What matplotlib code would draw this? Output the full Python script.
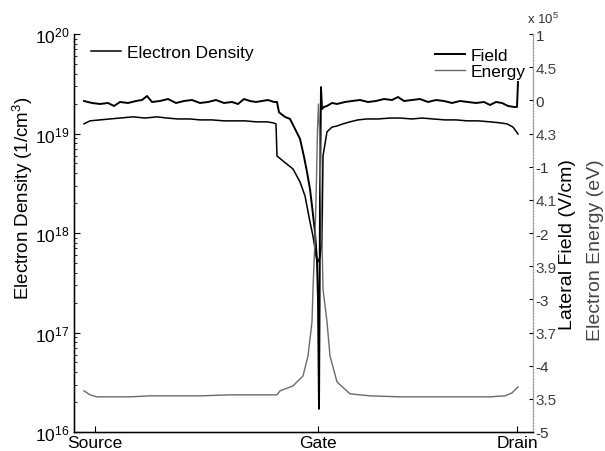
import matplotlib
matplotlib.use("Agg")
import matplotlib.pyplot as plt
import numpy as np

plt.rcParams["font.family"] = ["Liberation Sans", "DejaVu Sans"]
plt.rcParams["mathtext.default"] = "regular"
plt.rcParams["axes.unicode_minus"] = False

# position along the channel (nm), Source at 0, Drain at 422
tick_pos = [0, 223, 422]
tick_names = ["Source", "Gate", "Drain"]

# electron density (1/cm^3)
dens_x = [-11, -5, 5, 15, 25, 38, 50, 62, 72, 83, 95, 105, 117, 129, 138, 150,
          161, 172, 178, 181, 182, 188, 198, 205, 210, 215, 218, 222, 223, 225,
          227, 228, 232, 237, 242, 248, 255, 263, 272, 283, 295, 305, 317, 327,
          338, 350, 361, 372, 383, 395, 405, 412, 418, 423]
dens = [1.25e19, 1.34e19, 1.37e19, 1.40e19, 1.43e19, 1.47e19, 1.43e19, 1.47e19,
        1.43e19, 1.40e19, 1.40e19, 1.37e19, 1.37e19, 1.34e19, 1.34e19, 1.34e19,
        1.31e19, 1.31e19, 1.28e19, 1.25e19, 5.94e18, 5.30e18, 4.40e18, 3.26e18,
        2.36e18, 1.29e18, 9.3e17, 5.24e17, 5.12e17, 5.74e17, 8.7e17, 5.94e18,
        1.04e19, 1.16e19, 1.19e19, 1.25e19, 1.31e19, 1.37e19, 1.40e19, 1.40e19,
        1.43e19, 1.43e19, 1.40e19, 1.43e19, 1.40e19, 1.37e19, 1.37e19, 1.34e19,
        1.34e19, 1.31e19, 1.28e19, 1.25e19, 1.16e19, 9.9e18]

# lateral field (1e5 V/cm)
field_x = [-11, -3, 5, 13, 19, 25, 33, 41, 47, 52, 57, 65, 73, 81, 89, 97, 105,
           113, 121, 129, 137, 143, 149, 155, 161, 167, 173, 179, 182,
           184, 190, 195, 200, 205, 209, 212, 215, 217, 220, 222, 223, 224,
           224.6, 225, 226, 227, 229, 232, 237, 242,
           250, 257, 265, 273, 281, 289, 297, 303, 309, 317, 325, 333, 341, 349,
           357, 365, 373, 381, 389, 395, 401, 407, 413, 419, 422, 423]
field = [-0.01, -0.04, -0.055, -0.04, -0.085, -0.025, -0.04, -0.01, 0.005, 0.065,
         -0.025, -0.01, 0.02, -0.04, -0.01, 0.005, -0.04, -0.025, 0.005, -0.04,
         -0.025, -0.055, 0.02, -0.01, -0.025, -0.01, 0.005, -0.025, -0.025,
         -0.18, -0.25, -0.28, -0.43, -0.58, -0.85, -1.08, -1.34, -1.59, -1.99,
         -2.42, -3.0, -4.65, -3.0, -1.49, 0.20, -0.13, -0.10, -0.085, -0.04, -0.055,
         -0.025, -0.01, 0.005, -0.025, -0.01, 0.02, 0.005, 0.05, -0.01, 0.005, 0.02,
         -0.025, 0.005, -0.01, -0.04, -0.01, -0.025, -0.04, -0.025, -0.07, -0.025,
         -0.04, -0.085, -0.10, -0.10, 0.276]

# electron energy (eV)
energy_x = [-11, -5, 2, 15, 35, 55, 75, 105, 135, 165, 182, 185, 198, 208, 213,
            217, 218, 220, 221.5, 222.5, 223.5, 224.5, 225.5, 227, 228, 232, 235,
            242, 255, 275, 305, 335, 365, 395, 410, 417, 423]
energy = [3.524, 3.512, 3.506, 3.506, 3.506, 3.509, 3.509, 3.509, 3.512, 3.512,
          3.512, 3.524, 3.539, 3.569, 3.629, 3.732, 3.831, 3.982, 4.163, 4.314,
          4.389, 4.314, 4.163, 3.982, 3.831, 3.732, 3.629, 3.551, 3.515, 3.509,
          3.506, 3.506, 3.506, 3.506, 3.509, 3.518, 3.536]

W, H = 605, 452
fig = plt.figure(figsize=(W / 100, H / 100), dpi=100)
ax = fig.add_axes([74 / W, 19 / H, 459 / W, 398 / H])
ax2 = ax.twinx()
ax3 = ax.twinx()

l_dens, = ax.plot(dens_x, dens, color="black", lw=1.1)
ax.set_yscale("log")
ax.set_ylim(1e16, 1e20)
ax.set_xlim(-21, 438)
ax.set_yticks([1e16, 1e17, 1e18, 1e19, 1e20],
              labels=[r"$10^{16}$", r"$10^{17}$", r"$10^{18}$", r"$10^{19}$", r"$10^{20}$"])
ax.set_xticks(tick_pos, labels=tick_names)
ax.tick_params(axis="both", which="major", direction="in", length=4, labelsize=12.5)
ax.tick_params(axis="y", which="minor", direction="in", length=2)
ax.tick_params(axis="y", which="both", right=False)
ax.tick_params(axis="x", pad=2)

l_field, = ax2.plot(field_x, field, color="black", lw=1.4)
ax2.set_ylim(-5, 1)
ax2.set_yticks(np.arange(-5, 2, 1))
ax2.tick_params(axis="y", direction="in", length=3, pad=2, labelsize=11, labelcolor="#333333")

l_energy, = ax3.plot(energy_x, energy, color="#6a6a6a", lw=1.0)
ax3.set_ylim(3.4, 4.6)
ax3.set_yticks([3.5, 3.7, 3.9, 4.1, 4.3, 4.5])
ax3.yaxis.set_major_formatter(matplotlib.ticker.FormatStrFormatter("%.1f"))
ax3.tick_params(axis="y", direction="in", length=3, pad=2, labelsize=11, labelcolor="#444444")

for a in (ax, ax2, ax3):
    a.spines["top"].set_visible(False)
    a.spines["right"].set_color("#999999")
    a.spines["right"].set_linestyle(":")
    a.spines["right"].set_linewidth(0.8)
ax.spines["left"].set_linewidth(1.0)
ax.spines["bottom"].set_linewidth(1.0)

ax.legend([l_dens], ["Electron Density"], loc="upper left",
          bbox_to_anchor=(91 / W, 1 - 46 / H), bbox_transform=fig.transFigure,
          frameon=False, fontsize=12.5, handlelength=1.75, handletextpad=0.35,
          borderpad=0, borderaxespad=0)
ax3.legend([l_field, l_energy], ["Field", "Energy"], loc="upper right",
           bbox_to_anchor=(526 / W, 1 - 49 / H), bbox_transform=fig.transFigure,
           frameon=False, fontsize=12.5, handlelength=1.75, handletextpad=0.35,
           labelspacing=0.05, borderpad=0, borderaxespad=0)

fig.text(23 / W, 1 - 198 / H, r"Electron Density (1/cm$^3$)", rotation=90,
         ha="center", va="center", fontsize=13.5)
fig.text(567 / W, 1 - 245 / H, "Lateral Field (V/cm)", rotation=90,
         ha="center", va="center", fontsize=14)
fig.text(596 / W, 1 - 250 / H, "Electron Energy (eV)", rotation=90,
         ha="center", va="center", fontsize=14, color="#444444")
fig.text(527 / W, 1 - 19 / H, r"x 10$^5$", ha="left", va="center", fontsize=9.5,
         color="#333333")

fig.savefig("out.png", dpi=100)
